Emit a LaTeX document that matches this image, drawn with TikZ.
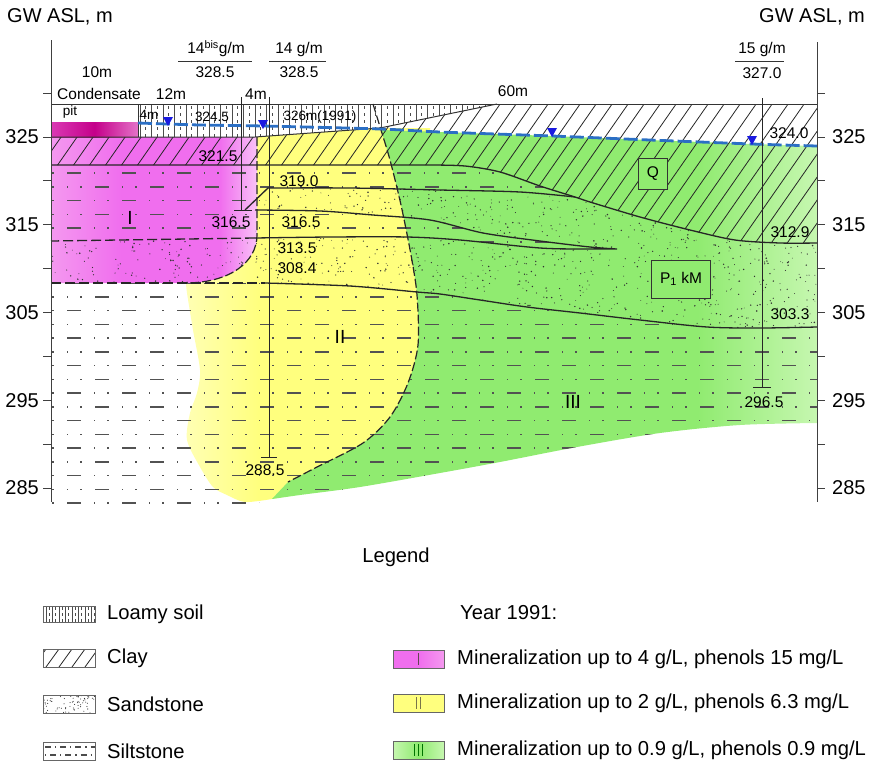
\documentclass[tikz,border=0pt]{standalone}
\usepackage{fontspec}
\setmainfont{Liberation Sans}
\definecolor{zIleft}{HTML}{F498EF}
\definecolor{zI}{HTML}{F06EEE}
\definecolor{zIlight}{HTML}{F9C2F7}
\definecolor{zIIlight}{HTML}{FFFFB4}
\definecolor{zII}{HTML}{FFFF7E}
\definecolor{zIII}{HTML}{90EB70}
\definecolor{zIIIlight}{HTML}{C6F7B0}
\definecolor{pitL}{HTML}{DA3AB4}
\definecolor{pitM}{HTML}{C4008A}
\definecolor{pitR}{HTML}{E472C8}
\definecolor{water}{HTML}{2B6FC4}
\definecolor{marker}{HTML}{1A1AE0}
\pgfdeclarehorizontalshading{magshade}{100bp}{color(0bp)=(zIleft); color(25bp)=(zIleft); color(42bp)=(zI); color(66bp)=(zI); color(75bp)=(zIlight); color(100bp)=(zIlight)}
\pgfdeclarehorizontalshading{yelshade}{100bp}{color(0bp)=(zIIlight); color(25bp)=(zIIlight); color(40bp)=(zII); color(100bp)=(zII)}
\pgfdeclarehorizontalshading{grnshade}{100bp}{color(0bp)=(zIII); color(25bp)=(zIII); color(64bp)=(zIII); color(75bp)=(zIIIlight); color(100bp)=(zIIIlight)}
\pgfdeclarehorizontalshading{legmag}{100bp}{color(0bp)=(zI); color(25bp)=(zI); color(50bp)=(zI); color(75bp)=(zIleft); color(100bp)=(zIleft)}
\pgfdeclarehorizontalshading{leggrn}{100bp}{color(0bp)=(zIIIlight); color(25bp)=(zIIIlight); color(50bp)=(zIII); color(75bp)=(zIIIlight); color(100bp)=(zIIIlight)}
\tikzset{
  ink/.style={draw=black!80, line width=1pt},
  geo/.style={draw=black!85, line width=1.3pt},
  zoneline/.style={draw=black!85, line width=1.2pt, dash pattern=on 9pt off 3pt},
  siltrow/.style={draw=black!68, line width=1.5pt, dash pattern=on 14pt off 13pt on 1.4pt off 12pt on 1.4pt off 13.2pt},
  hatchline/.style={draw=black!85, line width=0.8pt},
  loamline/.style={draw=black!70, line width=0.7pt},
  wtable/.style={draw=water, line width=2.8pt, dash pattern=on 14pt off 4pt},
  wmark/.style={fill=marker},
  bore/.style={draw=black!85, line width=0.9pt},
  axisline/.style={draw=black!75, line width=1pt},
  lbl/.style={inner sep=0pt, font=\fontsize{15.5}{18}\selectfont},
  lblsm/.style={inner sep=0pt, font=\fontsize{13.5}{16}\selectfont},
  axnum/.style={inner sep=0pt, font=\fontsize{20}{24}\selectfont},
  roman/.style={inner sep=0pt, font=\fontsize{19}{22}\selectfont},
  legtext/.style={inner sep=0pt, anchor=west, font=\fontsize{20.2}{24}\selectfont},
  legbox/.style={draw=black!60, line width=0.8pt},
  tagbox/.style={draw=black!80, line width=0.9pt, fill=zIII, inner sep=0pt, font=\fontsize{15.5}{18}\selectfont}
}
\begin{document}
\begin{tikzpicture}[x=1pt,y=-1pt]
\useasboundingbox (0,0) rectangle (889,761);

% ---------- coloured zones ----------
% zone II
\shade[shading=yelshade] (257,137) -- (381,128) -- (430,128) -- (430,472) -- (360,486) -- (300,494) -- (272,499)
  -- plot[smooth] coordinates {(272,499) (245,502) (227,495) (213,487) (200,467) (187,440) (190,413) (197,393) (200,370) (193,330) (187,293) (186,283)}
  -- (185,283) -- (257,235) -- cycle;
% zone I
\shade[shading=magshade] (51,137) -- (257,137) -- (257,235) .. controls (257,262) and (230,283) .. (185,283) -- (51,283) -- cycle;
% zone III
\shade[shading=grnshade] (381,130)
  -- plot[smooth] coordinates {(381,130) (440,132) (552,136) (650,140) (752,144) (817,146)}
  -- (817,423)
  -- plot[smooth] coordinates {(817,423) (740,425) (660,433) (577,447) (500,462) (440,473) (360,487) (300,495) (272,499)}
  -- (288,482)
  -- plot[smooth] coordinates {(288,482) (317,467) (363,443) (390,417) (408,383) (418,345) (417,295) (411,255) (401,205) (390,160) (381,130)}
  -- cycle;
% condensate pit
\shade[left color=pitL, right color=pitR, middle color=pitM] (51,122) rectangle (138,137);

% ---------- siltstone ----------
\begin{scope}[even odd rule]
\clip
  (51,165) -- (430,165)
  -- plot[smooth] coordinates {(430,165) (465,166) (500,172) (540,186) (575,197) (590,202) (640,217) (690,230) (735,240) (780,243) (817,243)}
  -- (817,423)
  -- plot[smooth] coordinates {(817,423) (740,425) (660,433) (577,447) (500,462) (440,473) (360,487) (300,495) (272,499)}
  -- (240,507) -- (51,507) -- cycle
  (51,241) -- (255,238) -- (255,210) -- (268,188)
  -- plot[smooth] coordinates {(268,188) (350,188) (440,190) (520,192) (575,197)}
  -- plot[smooth] coordinates {(575,197) (590,202) (640,217) (690,230) (735,240) (780,243) (817,243)}
  -- (817,327)
  -- plot[smooth] coordinates {(817,327) (760,328) (707,327) (640,320) (580,313) (527,307) (480,300) (440,294) (417,292) (350,286) (265,283)}
  -- (51,283) -- cycle
  (255,210)
  -- plot[smooth] coordinates {(255,210) (320,211) (373,215) (430,220) (483,233) (540,241) (590,247) (617,249)}
  -- plot[smooth] coordinates {(617,249) (590,249) (540,248) (460,240) (407,237) (330,237) (255,238)}
  -- cycle;
\foreach \k in {0,...,24}{
  \pgfmathsetmacro{\yy}{173+13.75*\k}
  \pgfmathsetmacro{\ph}{mod(\k,2)==0 ? 28 : 0}
  \draw[siltrow, dash phase=\ph pt] (40,\yy) -- (830,\yy);
}
\end{scope}

% ---------- sandstone ----------
\begin{scope}[even odd rule]
\clip
  (51,241) -- (255,238) -- (255,210) -- (268,188)
  -- plot[smooth] coordinates {(268,188) (350,188) (440,190) (520,192) (575,197)}
  -- plot[smooth] coordinates {(575,197) (590,202) (640,217) (690,230) (735,240) (780,243) (817,243)}
  -- (817,327)
  -- plot[smooth] coordinates {(817,327) (760,328) (707,327) (640,320) (580,313) (527,307) (480,300) (440,294) (417,292) (350,286) (265,283)}
  -- (51,283) -- cycle
  (255,210)
  -- plot[smooth] coordinates {(255,210) (320,211) (373,215) (430,220) (483,233) (540,241) (590,247) (617,249)}
  -- plot[smooth] coordinates {(617,249) (590,249) (540,248) (460,240) (407,237) (330,237) (255,238)}
  -- cycle;
\pgfmathsetseed{2024}
\foreach \i in {1,...,1700}{
  \pgfmathsetmacro{\rx}{51+766*rnd}
  \pgfmathsetmacro{\ry}{183+147*rnd}
  \pgfmathsetmacro{\rr}{0.4+0.45*rnd}
  \fill[black!80] (\rx,\ry) circle (\rr pt);
}
\end{scope}

% ---------- clay ----------
\begin{scope}
\clip (51,137) -- (255,137) -- (380,128) -- (497,104) -- (817,104) -- (817,243)
  -- plot[smooth] coordinates {(817,243) (780,243) (735,240) (690,230) (640,217) (590,202) (575,197) (540,186) (500,172) (465,166) (430,165)}
  -- (51,165) -- cycle;
\foreach \x in {-170,-154,...,900}
  \draw[hatchline] (\x,262) -- ++(115,-165);
\end{scope}

% ---------- loamy soil ----------
\begin{scope}
\clip (138,104) -- (497,104) -- (380,128) -- (255,137) -- (138,137) -- cycle;
\foreach \x in {140,151.5,...,500}
  \draw[loamline] (\x,104) -- (\x,140);
\foreach \x in {145.75,157.25,...,500}
  \draw[loamline, dash pattern=on 3pt off 4pt] (\x,106) -- (\x,140);
\end{scope}

% ---------- layer boundaries ----------
\draw[ink] (51,104) -- (817,104);
\draw[ink] (138,104) -- (138,137);
\draw[ink] (51,137) -- (255,137) -- (380,128) -- (497,104);
\draw[geo] (51,165) -- (430,165)
  -- plot[smooth] coordinates {(430,165) (465,166) (500,172) (540,186) (575,197) (590,202) (640,217) (690,230) (735,240) (780,243) (817,243)};
\draw[geo] (245,210) -- (268,188)
  -- plot[smooth] coordinates {(268,188) (350,188) (440,190) (520,192) (575,197)};
\draw[geo] plot[smooth] coordinates {(255,210) (320,211) (373,215) (430,220) (483,233) (540,241) (590,247) (617,249)}
  -- plot[smooth] coordinates {(617,249) (590,249) (540,248) (460,240) (407,237) (330,237) (255,238)};
\draw[geo, dash pattern=on 10pt off 4pt] (255,238) -- (51,241);
\draw[geo, dash pattern=on 10pt off 4pt] (51,283) -- (265,283);
\draw[geo] plot[smooth] coordinates {(265,283) (350,286) (417,292) (440,294) (480,300) (527,307) (580,313) (640,320) (707,327) (760,328) (817,327)};

% ---------- zone boundaries ----------
\draw[zoneline] (257,137) -- (257,235) .. controls (257,262) and (230,283) .. (185,283);
\draw[zoneline] plot[smooth] coordinates {(373,104) (381,130) (390,160) (401,205) (411,255) (417,295) (418,345) (408,383) (390,417) (363,443) (317,467) (288,482)};

% ---------- water table ----------
\draw[wtable] plot[smooth] coordinates {(138,123) (200,125) (263,126) (380,129) (440,132) (552,136) (650,140) (752,144) (817,146)};
\foreach \mx/\my in {168/117, 263/120, 552/128, 752/136}
  \fill[wmark] (\mx-5,\my) -- (\mx+5,\my) -- (\mx,\my+9) -- cycle;

% ---------- boreholes ----------
\draw[bore] (241,97) -- (241,210);
\draw[bore] (234,210) -- (252,210);
\draw[bore] (269,97) -- (269,457);
\draw[bore] (261,457) -- (277,457);
\draw[bore] (762,98) -- (762,387);
\draw[bore] (753,387) -- (771,387);

% ---------- axes ----------
\draw[axisline] (51,40) -- (51,502);
\draw[axisline] (817,42) -- (817,502);
\foreach \e in {330,325,...,285}{
  \pgfmathsetmacro{\ty}{137+(325-\e)*8.775}
  \draw[axisline] (43,\ty) -- (51,\ty);
  \draw[axisline] (817,\ty) -- (825,\ty);
}
\foreach \e in {325,315,305,295,285}{
  \pgfmathsetmacro{\ty}{137+(325-\e)*8.775}
  \node[axnum, anchor=east] (axl\e) at (39,\ty) {\e};
  \node[axnum, anchor=west] (axr\e) at (832,\ty) {\e};
}
\node[axnum] (ttl) at (60,17) {GW ASL, m};
\node[axnum] (ttr) at (812,17) {GW ASL, m};

% ---------- borehole heads ----------
\node[lbl] (h14b) at (216,49) {14\textsuperscript{bis}g/m};
\draw[ink] (178,61) -- (252,61);
\node[lbl] (e14b) at (215,72) {328.5};
\node[lbl] (h14) at (299,49) {14 g/m};
\draw[ink] (269,61) -- (326,61);
\node[lbl] (e14) at (299,72) {328.5};
\node[lbl] (h15) at (762,49) {15 g/m};
\draw[ink] (735,61) -- (784,61);
\node[lbl] (e15) at (762,73) {327.0};

% ---------- section labels ----------
\node[lbl] (d10) at (97,72) {10m};
\node[lbl] (cond) at (99,94) {Condensate};
\node[lbl] (d12) at (171,94) {12m};
\node[lbl] (d4a) at (256,94) {4m};
\node[lbl] (d60) at (513,91) {60m};
\node[lblsm] (pit) at (70,112) {pit};
\node[lblsm] (d4b) at (149,115) {4m};
\node[lblsm] (w245) at (212,117) {324.5};
\node[lblsm] (w326) at (320,117) {326m(1991)};
\node[lbl] (w240) at (789,133) {324.0};
\node[lbl] (l215) at (218,156) {321.5};
\node[lbl] (l190) at (299,181) {319.0};
\node[lbl] (l165a) at (231,222) {316.5};
\node[lbl] (l165b) at (301,222) {316.5};
\node[lbl] (l135) at (297,248) {313.5};
\node[lbl] (l084) at (297,268) {308.4};
\node[lbl] (l885) at (265,470) {288.5};
\node[lbl] (l965) at (764,402) {296.5};
\node[lbl] (l129) at (790,232) {312.9};
\node[lbl] (l033) at (790,314) {303.3};
\node[roman] (rI) at (130,218) {I};
\node[roman] (rII) at (340,337) {II};
\node[roman] (rIII) at (573,402) {III};
\node[tagbox, minimum width=29pt, minimum height=31pt] (tagQ) at (653,174) {Q};
\node[tagbox, minimum width=59pt, minimum height=38pt] (tagP) at (681,279) {P\textsubscript{1} kM};

% ---------- legend ----------
\node[legtext, anchor=center] (legend) at (396,557) {Legend};
% loamy soil
\begin{scope}
\clip (43,606) rectangle (95,622);
\foreach \x in {46,52.5,...,95} \draw[loamline] (\x,606) -- (\x,622);
\foreach \x in {49.25,55.75,...,95} \draw[loamline, dash pattern=on 3pt off 3pt] (\x,607) -- (\x,622);
\end{scope}
\draw[legbox] (43,606) rectangle (95,622);
\node[legtext] (tLoam) at (107,614) {Loamy soil};
% clay
\begin{scope}
\clip (43,649) rectangle (95,667);
\foreach \x in {20,33,...,100} \draw[hatchline] (\x,667) -- ++(13,-18);
\end{scope}
\draw[legbox] (43,649) rectangle (95,667);
\node[legtext] (tClay) at (107,658) {Clay};
% sandstone
\begin{scope}
\clip (43,695) rectangle (95,713);
\pgfmathsetseed{77}
\foreach \i in {1,...,70}{
  \pgfmathsetmacro{\rx}{43+52*rnd}
  \pgfmathsetmacro{\ry}{695+18*rnd}
  \fill[black!80] (\rx,\ry) circle (0.55pt);
}
\end{scope}
\draw[legbox] (43,695) rectangle (95,713);
\node[legtext] (tSand) at (107,704) {Sandstone};
% siltstone
\begin{scope}
\clip (43,742) rectangle (95,760);
\draw[draw=black!70, line width=1.3pt, dash pattern=on 6pt off 4pt on 1.2pt off 4pt] (45,747) -- (95,747);
\draw[draw=black!70, line width=1.3pt, dash pattern=on 1.2pt off 4pt on 6pt off 4pt] (45,755) -- (95,755);
\end{scope}
\draw[legbox] (43,742) rectangle (95,760);
\node[legtext] (tSilt) at (107,751) {Siltstone};

\node[legtext] (year) at (460,613) {Year 1991:};
\shade[shading=legmag] (393,650) rectangle (444,668);
\draw[legbox] (393,650) rectangle (444,668);
\draw[draw=black!70!magenta, line width=1pt] (418,653) -- (418,665);
\node[legtext] (tZ1) at (457,659) {Mineralization up to 4 g/L, phenols 15 mg/L};
\fill[zII] (393,694) rectangle (444,712);
\draw[legbox] (393,694) rectangle (444,712);
\draw[draw=black!60!yellow, line width=1pt] (416,697) -- (416,709) (420,697) -- (420,709);
\node[legtext] (tZ2) at (457,703) {Mineralization up to 2 g/L, phenols 6.3 mg/L};
\shade[shading=leggrn] (393,741) rectangle (444,759);
\draw[legbox] (393,741) rectangle (444,759);
\draw[draw=black!55!green, line width=1pt] (414,744) -- (414,756) (418,744) -- (418,756) (422,744) -- (422,756);
\node[legtext] (tZ3) at (457,750) {Mineralization up to 0.9 g/L, phenols 0.9 mg/L};
\end{tikzpicture}
\end{document}
